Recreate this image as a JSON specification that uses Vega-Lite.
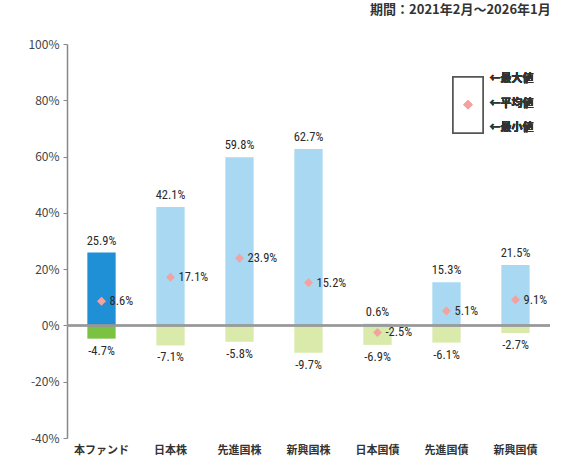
{
  "$schema": "https://vega.github.io/schema/vega-lite/v6.json",
  "autosize": {"type": "none"},
  "width": 483,
  "height": 394,
  "padding": {"left": 67, "top": 44, "right": 12, "bottom": 28},
  "background": "white",
  "title": {
    "text": "期間：2021年2月～2026年1月",
    "anchor": "end",
    "orient": "top",
    "offset": 21,
    "fontSize": 13,
    "font": "Noto Sans CJK JP",
    "fontWeight": "bold",
    "color": "#333333"
  },
  "config": {
    "view": {"stroke": null},
    "axis": {"grid": false, "labelFont": "Noto Sans CJK JP", "labelColor": "#444444"}
  },
  "data": {
    "values": [
      {"name": "本ファンド", "max": 25.9, "mean": 8.6, "min": -4.7},
      {"name": "日本株", "max": 42.1, "mean": 17.1, "min": -7.1},
      {"name": "先進国株", "max": 59.8, "mean": 23.9, "min": -5.8},
      {"name": "新興国株", "max": 62.7, "mean": 15.2, "min": -9.7},
      {"name": "日本国債", "max": 0.6, "mean": -2.5, "min": -6.9},
      {"name": "先進国債", "max": 15.3, "mean": 5.1, "min": -6.1},
      {"name": "新興国債", "max": 21.5, "mean": 9.1, "min": -2.7}
    ]
  },
  "transform": [
    {"calculate": "(datum.max < 0 ? '-' : '') + format(abs(datum.max), '.1f') + '%'", "as": "maxLabel"},
    {"calculate": "(datum.mean < 0 ? '-' : '') + format(abs(datum.mean), '.1f') + '%'", "as": "meanLabel"},
    {"calculate": "(datum.min < 0 ? '-' : '') + format(abs(datum.min), '.1f') + '%'", "as": "minLabel"}
  ],
  "encoding": {
    "x": {
      "field": "name",
      "type": "nominal",
      "sort": null,
      "scale": {"paddingInner": 0.59},
      "axis": {
        "title": null,
        "labelAngle": 0,
        "domain": false,
        "ticks": false,
        "labelPadding": 6,
        "labelFontSize": 11,
        "labelFontWeight": "bold",
        "labelColor": "#333333"
      }
    }
  },
  "layer": [
    {
      "mark": {"type": "bar"},
      "encoding": {
        "y": {
          "field": "max",
          "type": "quantitative",
          "scale": {"domain": [-40, 100], "nice": false},
          "axis": {
            "title": null,
            "values": [-40, -20, 0, 20, 40, 60, 80, 100],
            "labelExpr": "datum.value + '%'",
            "labelFontSize": 12,
            "labelPadding": 4,
            "domainColor": "#888888",
            "domainWidth": 1.5,
            "tickColor": "#888888",
            "tickSize": 4
          }
        },
        "y2": {"datum": 0},
        "color": {
          "condition": {"test": "datum.name === '本ファンド'", "value": "#1f8fd6"},
          "value": "#a8d8f2"
        }
      }
    },
    {
      "mark": {"type": "bar"},
      "encoding": {
        "y": {"field": "min", "type": "quantitative"},
        "y2": {"datum": 0},
        "color": {
          "condition": {"test": "datum.name === '本ファンド'", "value": "#7cc242"},
          "value": "#d9eaab"
        }
      }
    },
    {
      "mark": {"type": "rule", "color": "#999999", "strokeWidth": 1.5},
      "encoding": {"y": {"datum": 0}, "x": {"value": 0}, "x2": {"value": 483}}
    },
    {
      "mark": {"type": "point", "shape": "diamond", "filled": true, "size": 80, "color": "#f4a2a0", "opacity": 1},
      "encoding": {"y": {"field": "mean", "type": "quantitative"}}
    },
    {
      "mark": {"type": "text", "align": "left", "baseline": "middle", "dx": 8, "fontSize": 12.5, "font": "Liberation Sans Narrow, Roboto Condensed, Liberation Sans", "color": "#2a2a2a"},
      "encoding": {
        "y": {"field": "mean", "type": "quantitative"},
        "text": {"field": "meanLabel", "type": "nominal"}
      }
    },
    {
      "mark": {"type": "text", "align": "center", "baseline": "bottom", "dy": -5, "fontSize": 12.5, "font": "Liberation Sans Narrow, Roboto Condensed, Liberation Sans", "color": "#2a2a2a"},
      "encoding": {
        "y": {"field": "max", "type": "quantitative"},
        "text": {"field": "maxLabel", "type": "nominal"}
      }
    },
    {
      "mark": {"type": "text", "align": "center", "baseline": "top", "dy": 6, "fontSize": 12.5, "font": "Liberation Sans Narrow, Roboto Condensed, Liberation Sans", "color": "#2a2a2a"},
      "encoding": {
        "y": {"field": "min", "type": "quantitative"},
        "text": {"field": "minLabel", "type": "nominal"}
      }
    },
    {
      "mark": {"type": "bar", "fill": "white", "stroke": "#555555", "strokeWidth": 1.5, "width": 30, "xOffset": -47.5},
      "encoding": {"x": {"datum": "新興国債"}, "y": {"datum": 88.3}, "y2": {"datum": 68.4}}
    },
    {
      "mark": {"type": "point", "shape": "diamond", "filled": true, "size": 80, "color": "#f4a2a0", "opacity": 1, "xOffset": -47.5},
      "encoding": {"x": {"datum": "新興国債"}, "y": {"datum": 78.4}}
    },
    {
      "mark": {"type": "text", "align": "left", "baseline": "middle", "fontSize": 11, "fontWeight": "bold", "font": "Noto Sans CJK JP", "color": "#333333", "xOffset": -26},
      "encoding": {"x": {"datum": "新興国債"}, "y": {"datum": 87.5}, "text": {"value": "←最大値"}}
    },
    {
      "mark": {"type": "text", "align": "left", "baseline": "middle", "fontSize": 11, "fontWeight": "bold", "font": "Noto Sans CJK JP", "color": "#333333", "xOffset": -26},
      "encoding": {"x": {"datum": "新興国債"}, "y": {"datum": 78.7}, "text": {"value": "←平均値"}}
    },
    {
      "mark": {"type": "text", "align": "left", "baseline": "middle", "fontSize": 11, "fontWeight": "bold", "font": "Noto Sans CJK JP", "color": "#333333", "xOffset": -26},
      "encoding": {"x": {"datum": "新興国債"}, "y": {"datum": 70.0}, "text": {"value": "←最小値"}}
    }
  ]
}
